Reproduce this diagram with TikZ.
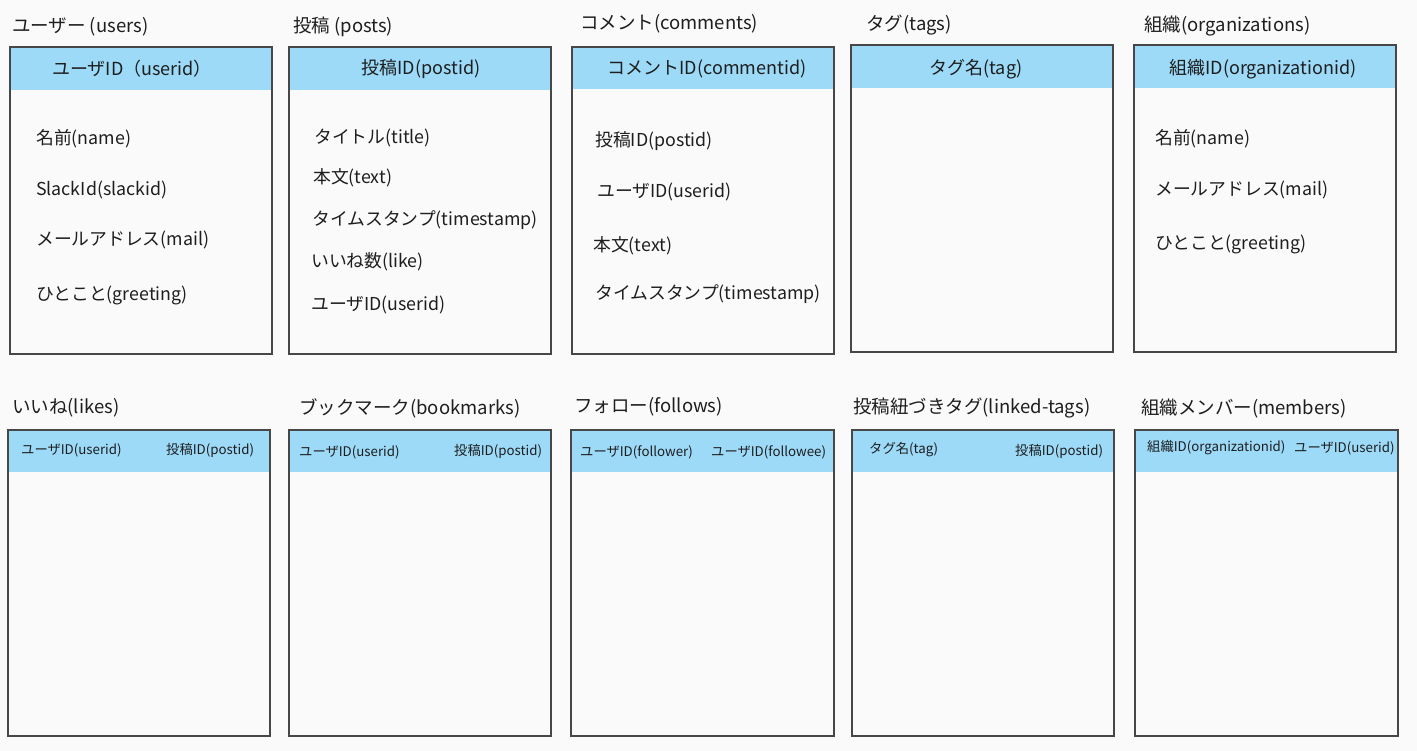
\documentclass[tikz,border=0pt]{standalone}
\usepackage{fontspec}
\setmainfont{Noto Sans CJK JP}
\usetikzlibrary{fit}
\definecolor{bg}{HTML}{FAFAFA}
\definecolor{hdrblue}{HTML}{9CDAF8}
\definecolor{frameclr}{HTML}{474747}
\definecolor{txt}{HTML}{1E1E1E}
\tikzset{
  frame/.style={draw=frameclr, line width=1.6pt, inner sep=0pt, fill=none},
  hdrfill/.style={fill=hdrblue},
  ttl/.style={anchor=west, inner sep=0pt, text=txt, font=\fontsize{18.5}{21}\selectfont},
  hdrtext/.style={anchor=center, inner sep=0pt, text=txt, font=\fontsize{18}{21}\selectfont},
  field/.style={anchor=west, inner sep=0pt, text=txt, font=\fontsize{17.8}{21}\selectfont},
  smallhdr/.style={anchor=west, inner sep=0pt, text=txt, font=\fontsize{13.3}{16}\selectfont},
}
\newcommand\tablebox[6]{%
  \fill[hdrfill] (#2,#3) rectangle (#4,#6);
  \path (#2,#3) coordinate (#1-nw) (#4,#5) coordinate (#1-se);
  \node[frame, fit=(#1-nw)(#1-se)] (#1) {};
}
\begin{document}
\begin{tikzpicture}[x=1pt,y=-1pt]
\fill[bg] (0,0) rectangle (1417,751);
\useasboundingbox (0,0) rectangle (1417,751);

% ---------- top row ----------
\tablebox{users}{10}{47}{272}{354}{90}
\tablebox{posts}{289}{47}{551}{354}{90}
\tablebox{comments}{572}{47}{834}{354}{89}
\tablebox{tags}{851}{45}{1113}{352}{88}
\tablebox{orgs}{1134}{45}{1396}{352}{88}

\node[ttl] (users-t) at (12,27) {ユーザー (users)};
\node[hdrtext] (users-h) at (132,69) {ユーザID（userid）};
\node[field] (users-f1) at (36,139) {名前(name)};
\node[field] (users-f2) at (36,190) {SlackId(slackid)};
\node[field] (users-f3) at (36,240) {メールアドレス(mail)};
\node[field] (users-f4) at (36,295) {ひとこと(greeting)};

\node[ttl] (posts-t) at (293,27) {投稿 (posts)};
\node[hdrtext] (posts-h) at (421,69) {投稿ID(postid)};
\node[field] (posts-f1) at (314,138) {タイトル(title)};
\node[field] (posts-f2) at (313,178) {本文(text)};
\node[field] (posts-f3) at (312,220) {タイムスタンプ(timestamp)};
\node[field] (posts-f4) at (311,262) {いいね数(like)};
\node[field] (posts-f5) at (311,305) {ユーザID(userid)};

\node[ttl] (comments-t) at (580,24) {コメント(comments)};
\node[hdrtext] (comments-h) at (707,69) {コメントID(commentid)};
\node[field] (comments-f1) at (595,141) {投稿ID(postid)};
\node[field] (comments-f2) at (597,192) {ユーザID(userid)};
\node[field] (comments-f3) at (593,246) {本文(text)};
\node[field] (comments-f4) at (595,294) {タイムスタンプ(timestamp)};

\node[ttl] (tags-t) at (866,25) {タグ(tags)};
\node[hdrtext] (tags-h) at (976,69) {タグ名(tag)};

\node[ttl] (orgs-t) at (1144,26) {組織(organizations)};
\node[hdrtext] (orgs-h) at (1263,69) {組織ID(organizationid)};
\node[field] (orgs-f1) at (1155,139) {名前(name)};
\node[field] (orgs-f2) at (1155,190) {メールアドレス(mail)};
\node[field] (orgs-f3) at (1155,244) {ひとこと(greeting)};

% ---------- bottom row ----------
\tablebox{likes}{8}{430}{270}{736}{472}
\tablebox{bookmarks}{289}{430}{551}{736}{472}
\tablebox{follows}{571}{430}{834}{736}{472}
\tablebox{linked}{852}{430}{1114}{736}{472}
\tablebox{members}{1135}{430}{1398}{736}{472}

\node[ttl] (likes-t) at (12,408) {いいね(likes)};
\node[smallhdr] (likes-a) at (21,450) {ユーザID(userid)};
\node[smallhdr] (likes-b) at (166,450) {投稿ID(postid)};

\node[ttl] (bookmarks-t) at (299,408) {ブックマーク(bookmarks)};
\node[smallhdr] (bookmarks-a) at (299,452) {ユーザID(userid)};
\node[smallhdr] (bookmarks-b) at (454,451) {投稿ID(postid)};

\node[ttl] (follows-t) at (574,407) {フォロー(follows)};
\node[smallhdr] (follows-a) at (580,452) {ユーザID(follower)};
\node[smallhdr] (follows-b) at (711,452) {ユーザID(followee)};

\node[ttl] (linked-t) at (853,408) {投稿紐づきタグ(linked-tags)};
\node[smallhdr] (linked-a) at (869,450) {タグ名(tag)};
\node[smallhdr] (linked-b) at (1015,451) {投稿ID(postid)};

\node[ttl] (members-t) at (1141,409) {組織メンバー(members)};
\node[smallhdr] (members-a) at (1147,448) {組織ID(organizationid)};
\node[smallhdr] (members-b) at (1294,448) {ユーザID(userid)};
\end{tikzpicture}
\end{document}
